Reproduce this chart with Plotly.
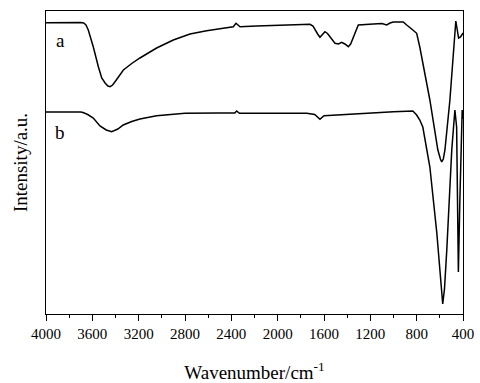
import plotly.graph_objects as go

# Curve a (wavenumber cm-1, intensity a.u.)
wn_a = [4000, 3900, 3800, 3700, 3675, 3655, 3635, 3610, 3592, 3548, 3519, 3490, 3465, 3447,
        3425, 3404, 3370, 3332, 3260, 3189, 3045, 2901, 2757, 2613, 2470, 2383, 2360, 2325,
        2181, 1893, 1721, 1695, 1678, 1655, 1635, 1612, 1592, 1570, 1548, 1505, 1475, 1448,
        1420, 1390, 1370, 1347, 1325, 1304, 1174, 1100, 1059, 1030, 1002, 916, 886, 857, 833,
        800, 773, 686, 617, 595, 584, 570, 556, 513, 478, 462, 438, 421, 400]
int_a = [291.3, 291.5, 291.2, 291.4, 291, 289, 284, 275, 267.3, 247.3, 236, 231, 228, 227.3,
         229, 232.3, 238, 244, 250.5, 256, 266, 274, 280, 283.3, 285.7, 287.3, 290.7, 287.3,
         288, 289.3, 289.7, 288, 284, 280, 276.7, 280, 282.3, 280.5, 277.3, 270.7, 270, 271.7,
         270, 267.3, 270, 277.3, 284.5, 289, 290, 290.5, 289, 291, 292, 292, 289, 285.7, 284,
         280.7, 267, 214, 164, 155, 152, 155, 164, 214, 274, 293, 276, 277, 281]

# Curve b
wn_b = [4000, 3800, 3700, 3680, 3640, 3592, 3534, 3480, 3433, 3380, 3333, 3260, 3189, 3045,
        2904, 2800, 2500, 2370, 2354, 2330, 2000, 1749, 1680, 1635, 1600, 1400, 1200, 1000,
        886, 833, 800, 773, 747, 686, 626, 590, 575, 560, 540, 497, 470, 455, 440, 427, 407, 400]
int_b = [202, 202.3, 202, 201.5, 199.5, 196, 188, 184, 182.3, 185, 189, 192.5, 195, 198.3,
         200, 200.7, 201, 201, 203, 200.7, 200.8, 200.7, 199.5, 194.7, 198.3, 199.7, 201.5, 202.3,
         202.7, 203, 199, 194, 187, 147, 81, 25, 10, 25, 64, 164, 204, 187, 42, 114, 204, 195]

labels = ["a", "b"]
label_pos_x = [3878, 3878]
label_pos_y = [274, 182]

SERIF = "Liberation Serif, Times New Roman, Times, serif"

fig = go.Figure()
fig.add_trace(go.Scatter(x=wn_a, y=int_a, mode="lines", name="a",
                         line=dict(color="black", width=1.5)))
fig.add_trace(go.Scatter(x=wn_b, y=int_b, mode="lines", name="b",
                         line=dict(color="black", width=1.5)))

for t, xx, yy in zip(labels, label_pos_x, label_pos_y):
    fig.add_annotation(x=xx, y=yy, text=t, showarrow=False,
                       font=dict(family=SERIF, size=19, color="black"))

fig.update_layout(
    width=480, height=383,
    margin=dict(l=46, r=17, t=11, b=69),
    paper_bgcolor="white", plot_bgcolor="white",
    showlegend=False,
    font=dict(family=SERIF, color="black"),
)
fig.update_xaxes(
    range=[4000, 400], dtick=400, tick0=400, automargin=False,
    ticks="outside", ticklen=6, tickwidth=1, tickcolor="black",
    minor=dict(dtick=200, tick0=400, ticks="outside", ticklen=3, tickwidth=1, tickcolor="black"),
    showline=True, linecolor="black", linewidth=1, mirror=True,
    showgrid=False, zeroline=False,
    tickfont=dict(family=SERIF, size=15, color="black"),
    title=dict(text="Wavenumber/cm<sup>-1</sup>", standoff=24,
               font=dict(family=SERIF, size=19, color="black")),
)
fig.update_yaxes(
    range=[0, 303], showticklabels=False, ticks="", automargin=False,
    showline=True, linecolor="black", linewidth=1, mirror=True,
    showgrid=False, zeroline=False,
    title=dict(text="Intensity/a.u.", standoff=12,
               font=dict(family=SERIF, size=19, color="black")),
)

fig.write_html("out.html", config={"displayModeBar": False},
               post_script="document.body.style.margin='0';document.body.style.overflow='hidden';")
